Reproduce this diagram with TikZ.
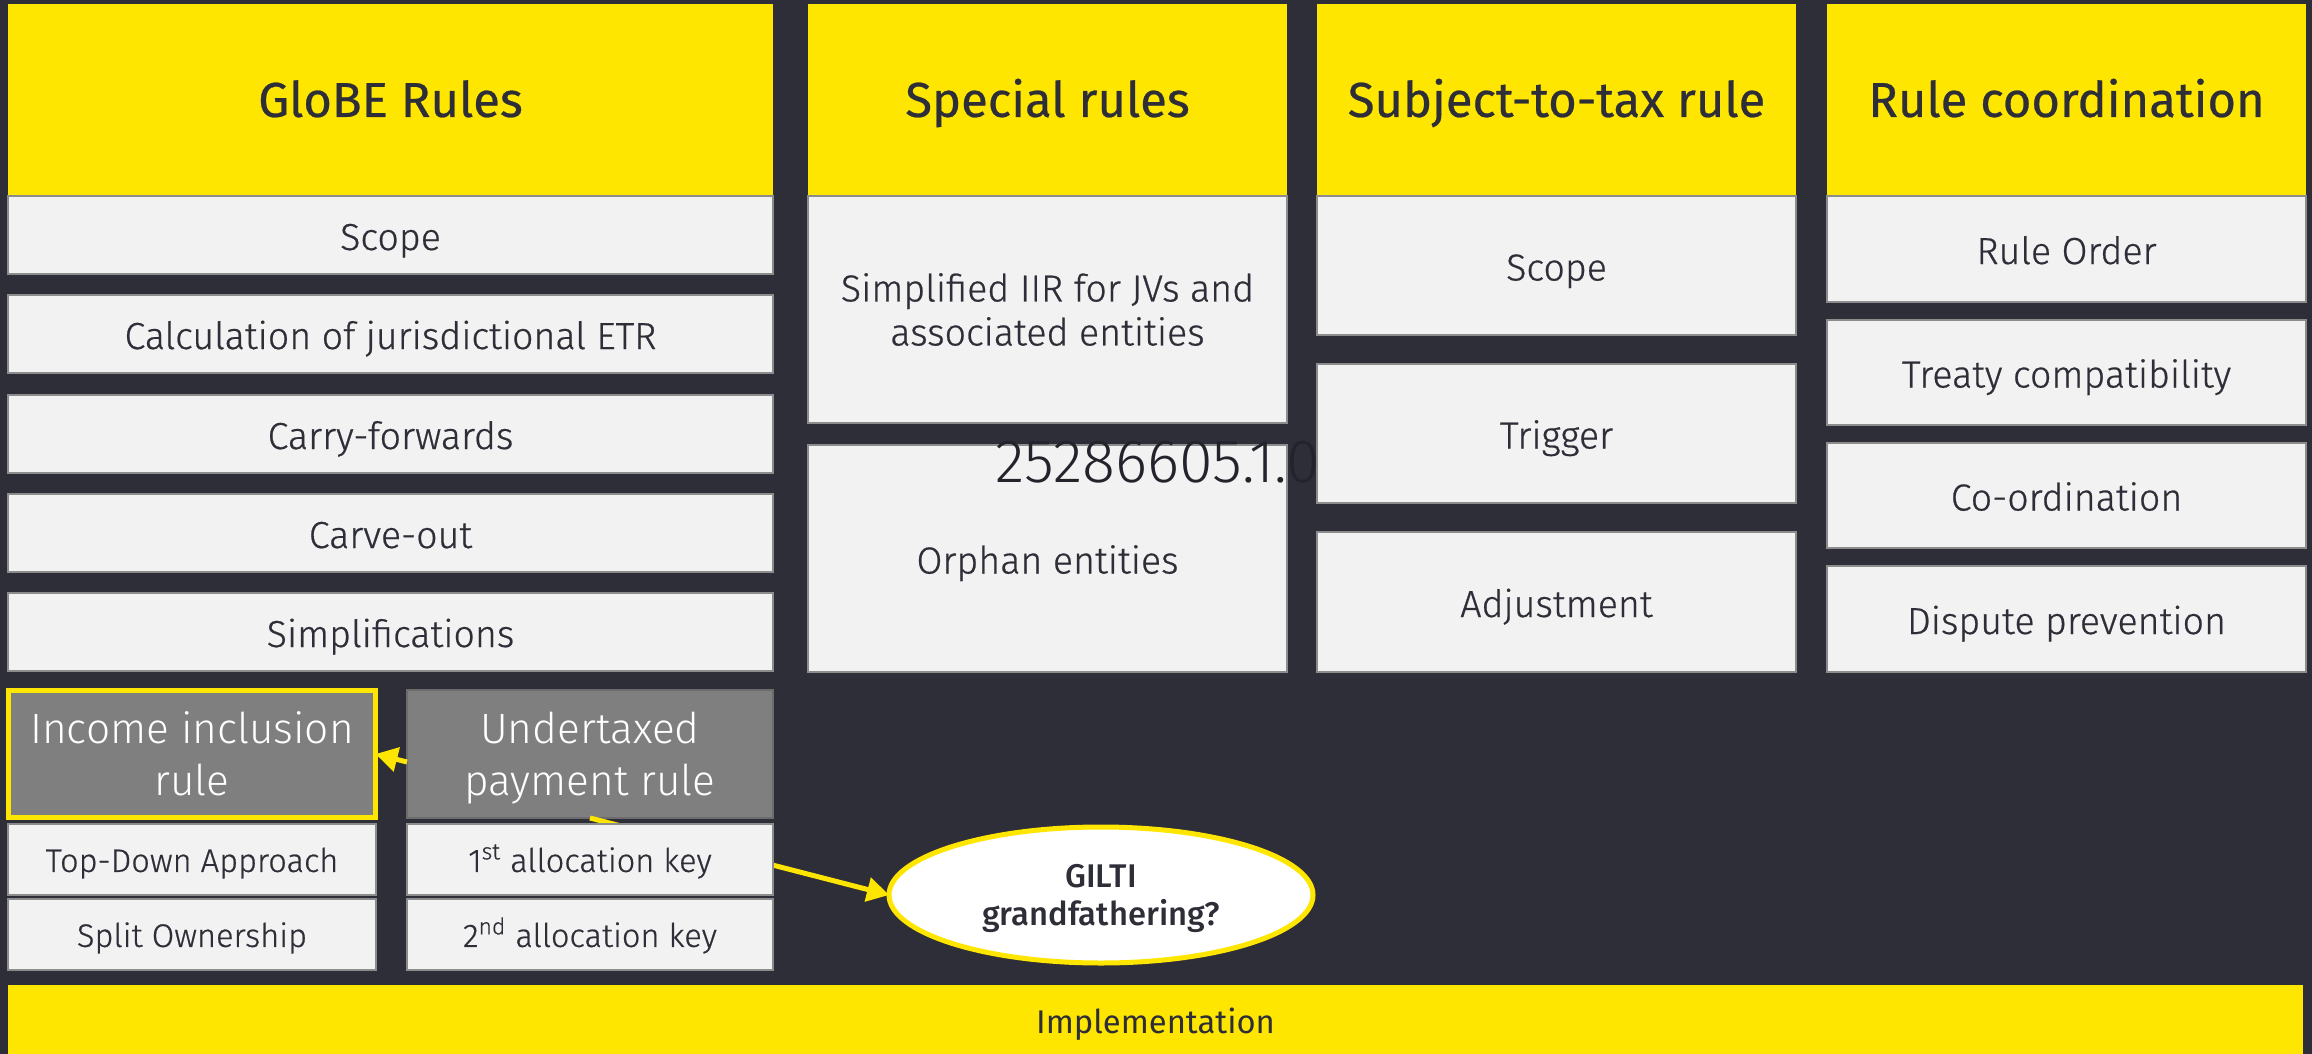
\documentclass[tikz,border=0pt]{standalone}
\usepackage{fontspec}
\setmainfont{Fira Sans Light}[FakeBold=0.6]
\newfontfamily\lightfont{Fira Sans Light}
\newfontfamily\regfont{Fira Sans}
\newfontfamily\headfont{Fira Sans}[FakeBold=0.5]
\newfontfamily\medfont{Fira Sans Medium}
\usetikzlibrary{shapes.geometric, arrows.meta}

\definecolor{bgdark}{HTML}{2E2E38}
\definecolor{eyyellow}{HTML}{FFE600}
\definecolor{boxfill}{HTML}{F2F2F2}
\definecolor{boxline}{HTML}{8C8C8C}
\definecolor{rulegray}{HTML}{7F7F7F}
\definecolor{stampink}{HTML}{23232C}

\tikzset{
  every node/.style={inner sep=0pt, outer sep=0pt, align=center, text=bgdark},
  % centre the capitals of a one-line label in its box (slightly low)
  oneline/.style={text height=#1, text depth=0pt},
  head/.style={fill=eyyellow, anchor=north west, minimum height=96pt, oneline=16.9pt,
    font=\headfont\fontsize{24.5}{29}\selectfont},
  item/.style={fill=boxfill, draw=boxline, line width=1pt, anchor=north west, oneline=15pt,
    font=\fontsize{18.8}{22}\selectfont},
  subitem/.style={item, oneline=12.4pt, font=\fontsize{16.3}{20}\selectfont},
  rulebox/.style={fill=rulegray, anchor=north west, text=white, text depth=0pt,
    font=\lightfont\fontsize{21.2}{26}\selectfont},
  conn/.style={draw=eyyellow, line width=2.5pt,
    -{Triangle[length=11pt, width=12pt]}, eyyellow},
}

\begin{document}
\begin{tikzpicture}[x=0.5pt, y=-0.5pt]
  % canvas
  \fill[bgdark] (0,0) rectangle (2312,1054);
  \useasboundingbox (0,0) rectangle (2312,1054);

  % column headers
  \node[head, minimum width=382.5pt] (h1) at (8,4) {GloBE Rules};
  \node[head, minimum width=239.5pt] (h2) at (808,4) {Special rules};
  \node[head, minimum width=239.5pt] (h3) at (1317,4) {Subject-to-tax rule};
  \node[head, minimum width=239.5pt] (h4) at (1827,4) {Rule coordination};

  % GloBE rules
  \node[item, minimum width=382.5pt, minimum height=39pt] (g1) at (8,196) {Scope};
  \node[item, minimum width=382.5pt, minimum height=39pt] (g2) at (8,295) {Calculation of jurisdictional ETR};
  \node[item, minimum width=382.5pt, minimum height=39pt] (g3) at (8,395) {Carry-forwards};
  \node[item, minimum width=382.5pt, minimum height=39pt] (g4) at (8,494) {Carve-out};
  \node[item, minimum width=382.5pt, minimum height=39pt] (g5) at (8,593) {Simplifications};

  % special rules
  \node[item, text height={}, text depth={}, minimum width=239.5pt, minimum height=113.5pt] (s1) at (808,196) {Simplified IIR for JVs and\\associated entities};
  \node[item, minimum width=239.5pt, minimum height=113.5pt] (s2) at (808,445) {Orphan entities};

  % document stamp
  \node[font=\lightfont\fontsize{30.5}{34}\selectfont, text=stampink, anchor=west, oneline=21pt] (stamp) at (995,461) {25286605.1.0};

  % subject-to-tax rule
  \node[item, minimum width=239.5pt, minimum height=69.5pt] (t1) at (1317,196) {Scope};
  \node[item, minimum width=239.5pt, minimum height=69.5pt] (t2) at (1317,364) {Trigger};
  \node[item, minimum width=239.5pt, minimum height=70pt] (t3) at (1317,532) {Adjustment};

  % rule coordination
  \node[item, minimum width=239.5pt, minimum height=53pt] (r1) at (1827,196) {Rule Order};
  \node[item, minimum width=239.5pt, minimum height=52.5pt] (r2) at (1827,320) {Treaty compatibility};
  \node[item, minimum width=239.5pt, minimum height=52.5pt] (r3) at (1827,443) {Co-ordination};
  \node[item, minimum width=239.5pt, minimum height=53pt] (r4) at (1827,566) {Dispute prevention};

  % IIR and UTPR
  \node[rulebox, draw=eyyellow, line width=2.5pt, minimum width=183.5pt, minimum height=63.5pt] (iir) at (8.5,690.5) {Income inclusion\\rule};
  \node[rulebox, draw=rulegray!85!black, line width=0.6pt, minimum width=183pt, minimum height=64pt] (upr) at (407,690) {Undertaxed\\payment rule};

  % GILTI question
  \node[ellipse, draw=eyyellow, line width=2.5pt, fill=white, minimum width=212pt, minimum height=68pt,
    text depth=-1.5pt, font=\medfont\fontsize{16.4}{19}\selectfont] (gilti) at (1101,895) {GILTI\\grandfathering?};

  \draw[conn] (upr.south) -- (gilti.west);
  \draw[conn] ([yshift=-4pt]upr.west) -- (iir.east);

  % approaches and allocation keys
  \node[subitem, minimum width=184pt, minimum height=35.5pt] (a1) at (8,824) {Top-Down Approach};
  \node[subitem, minimum width=184pt, minimum height=35.5pt] (a2) at (8,899) {Split Ownership};
  \node[subitem, minimum width=183pt, minimum height=35.5pt] (k1) at (407,824) {1\textsuperscript{st} allocation key};
  \node[subitem, minimum width=183pt, minimum height=35.5pt] (k2) at (407,899) {2\textsuperscript{nd} allocation key};

  % implementation bar
  \node[fill=eyyellow, anchor=north west, minimum width=1147.5pt, minimum height=34.5pt, oneline=13.8pt,
    font=\regfont\fontsize{16.4}{19}\selectfont] (impl) at (8,985) {Implementation};
\end{tikzpicture}
\end{document}
